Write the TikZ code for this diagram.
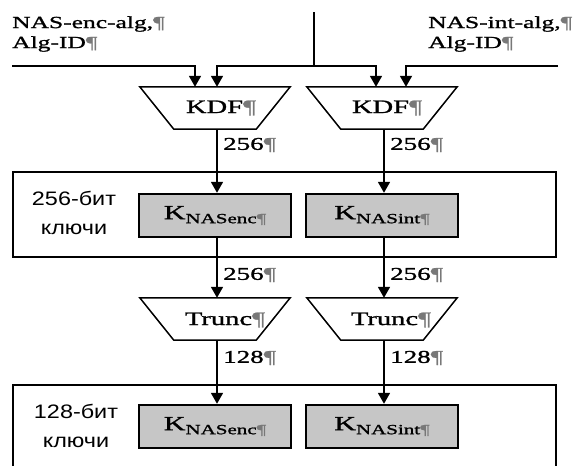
\documentclass[tikz,border=0pt]{standalone}
\usepackage{fontspec}
\setmainfont{Liberation Serif}
\newfontfamily\serifw[FakeStretch=1.5,FakeBold=1.3]{Liberation Serif}
\newfontfamily\sansw[FakeStretch=1.2]{Liberation Sans}
\usetikzlibrary{arrows.meta}
\definecolor{keygray}{RGB}{198,198,198}
\definecolor{pilcrow}{RGB}{120,120,120}
\newcommand{\pil}{\textcolor{pilcrow}{¶}}
\newcommand{\keytext}[1]{{\fontsize{20}{20}\selectfont K}\raisebox{-4pt}{\fontsize{14}{14}\selectfont #1\pil}}
\begin{document}
\begin{tikzpicture}[x=1pt,y=-1pt,
  line/.style={line width=1.8pt},
  arr/.style={line width=1.8pt,-{Triangle[length=11pt,width=12pt]}},
  inlabel/.style={font=\serifw\fontsize{17}{20}\selectfont, align=left, anchor=west, inner sep=0pt},
  trapbox/.style={minimum width=150pt, minimum height=42pt, inner sep=0pt},
  traplabel/.style={font=\serifw\fontsize{19}{22}\selectfont, inner sep=0pt},
  trapline/.style={line width=1.5pt},
  keybox/.style={draw, line width=2.4pt, fill=keygray, minimum width=152pt, minimum height=43pt, inner sep=0pt, font=\serifw},
  band/.style={draw, line width=1.6pt, minimum width=543pt, inner sep=0pt},
  bits/.style={font=\serifw\fontsize{18}{20}\selectfont, anchor=west, inner sep=0pt},
  bandlabel/.style={font=\sansw\fontsize{19.5}{29}\selectfont, align=center, inner sep=0pt}
]
\clip (0,0) rectangle (587,466);
\fill[white] (0,0) rectangle (587,466);

% column coordinates
\coordinate (colL) at (217,0);
\coordinate (colR) at (384,0);

% bands
\node[band, minimum height=85pt] (band1) at (284.5,214.5) {};
\node[band, minimum height=120pt] (band2) at (284.5,445) {};
\node[bandlabel] (bl1) at (74,213) {256-бит\\ключи};
\node[bandlabel] (bl2) at (76,426) {128-бит\\ключи};

% input labels
\node[inlabel] (enc) at (12,34) {NAS-enc-alg,\pil\\Alg-ID\pil};
\node[inlabel] (int) at (428,34) {NAS-int-alg,\pil\\Alg-ID\pil};

% KDF trapezoids
\node[trapbox] (kdf1) at (215,108) {};
\node[trapbox] (kdf2) at (382,108) {};
\foreach \n in {kdf1,kdf2}
  \draw[trapline] (\n.north west) -- (\n.north east) -- ([xshift=-34pt]\n.south east) -- ([xshift=34pt]\n.south west) -- cycle;
\node[traplabel] (kdf1t) at (221,108) {KDF\pil};
\node[traplabel] (kdf2t) at (387,108) {KDF\pil};

% Trunc trapezoids
\node[trapbox] (tr1) at (215,319) {};
\node[trapbox] (tr2) at (382,319) {};
\foreach \n in {tr1,tr2}
  \draw[trapline] (\n.north west) -- (\n.north east) -- ([xshift=-34pt]\n.south east) -- ([xshift=34pt]\n.south west) -- cycle;
\node[traplabel] (tr1t) at (225,320) {Trunc\pil};
\node[traplabel] (tr2t) at (391,320) {Trunc\pil};

% key boxes
\node[keybox] (k1) at (215,215.5) {\keytext{NASenc}};
\node[keybox] (k2) at (382,215.5) {\keytext{NASint}};
\node[keybox] (k3) at (215,426.5) {\keytext{NASenc}};
\node[keybox] (k4) at (382,426.5) {\keytext{NASint}};

% inputs
\coordinate (src) at (314,12);
\coordinate (junc) at (314,66);
\coordinate (encin) at (12,66);
\coordinate (intin) at (558,66);
\draw[line] (src) -- (junc);
\draw[arr] (junc) -| ([xshift=2pt]kdf1.north);
\draw[arr] (junc) -| ([xshift=-6pt]kdf2.north);
\draw[arr] (encin) -| ([xshift=-20pt]kdf1.north);
\draw[arr] (intin) -| ([xshift=24pt]kdf2.north);

% vertical flows
\draw[arr] (kdf1.south -| colL) -- (k1.north -| colL);
\draw[arr] (kdf2.south -| colR) -- (k2.north -| colR);
\draw[arr] (k1.south -| colL) -- (tr1.north -| colL);
\draw[arr] (k2.south -| colR) -- (tr2.north -| colR);
\draw[arr] (tr1.south -| colL) -- (k3.north -| colL);
\draw[arr] (tr2.south -| colR) -- (k4.north -| colR);

% bit labels
\node[bits] (b1) at (223,145) {256\pil};
\node[bits] (b2) at (390,145) {256\pil};
\node[bits] (b3) at (223,275) {256\pil};
\node[bits] (b4) at (390,275) {256\pil};
\node[bits] (b5) at (223,358) {128\pil};
\node[bits] (b6) at (390,358) {128\pil};
\end{tikzpicture}
\end{document}
